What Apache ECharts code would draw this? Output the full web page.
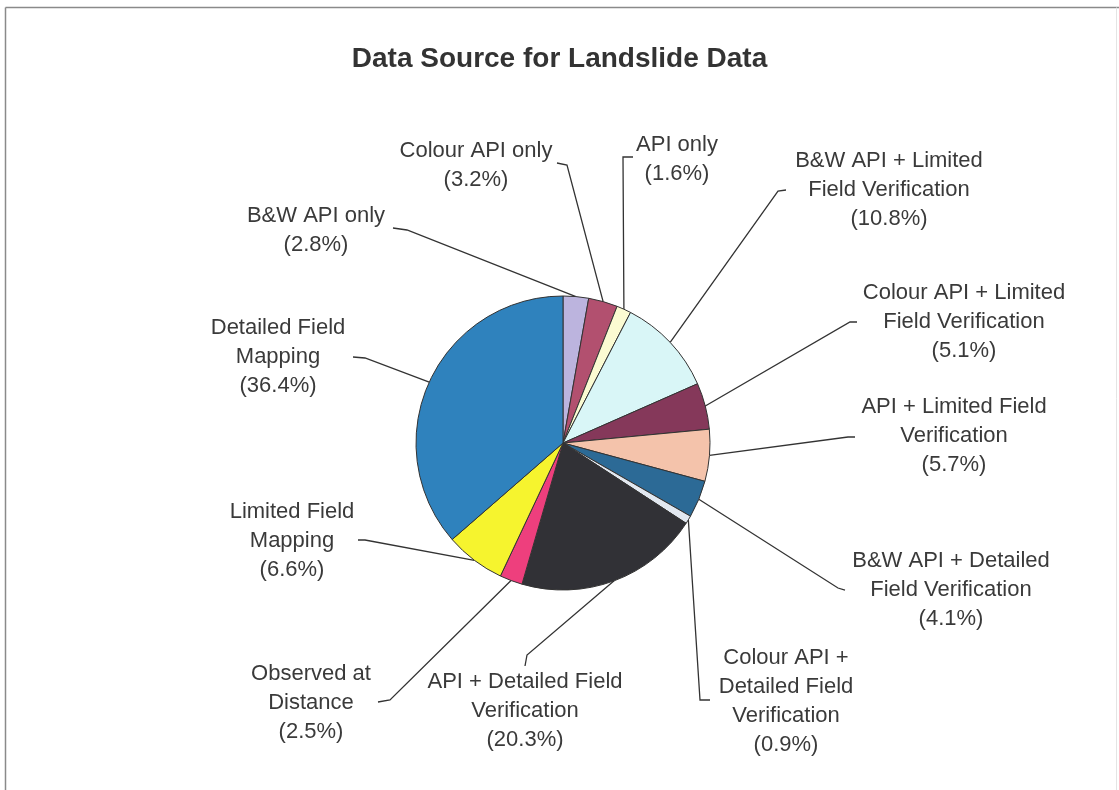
<!DOCTYPE html>
<html>
<head>
<meta charset="utf-8">
<script src="https://cdn.jsdelivr.net/npm/echarts@6/dist/echarts.min.js"></script>
<style>
  html, body { margin: 0; padding: 0; background: #ffffff; }
  #chart { width: 1119px; height: 790px; }
</style>
</head>
<body>
<div id="chart"></div>
<script>
// ---- data ----
const categories = [
  'B&W API only',
  'Colour API only',
  'API only',
  'B&W API + Limited\nField Verification',
  'Colour API + Limited\nField Verification',
  'API + Limited Field\nVerification',
  'B&W API + Detailed\nField Verification',
  'Colour API +\nDetailed Field\nVerification',
  'API + Detailed Field\nVerification',
  'Observed at\nDistance',
  'Limited Field\nMapping',
  'Detailed Field\nMapping'
];
const values = [2.8, 3.2, 1.6, 10.8, 5.1, 5.7, 4.1, 0.9, 20.3, 2.5, 6.6, 36.4];
const titleText = 'Data Source for Landslide Data';

// ---- styles / layout (not data) ----
const colors = [
  '#bcb4de', '#b2506f', '#fbfbd2', '#d9f6f7', '#85385a', '#f4c3ab',
  '#2c6a96', '#e2e8f0', '#313136', '#ee3f7d', '#f6f42e', '#2f82bd'
];
// label centre [x, y], bend point, line end point near label
const labelPos = [
  { c: [316, 230], bend: [407, 230], end: [393, 228] },
  { c: [476, 165], bend: [567, 165], end: [557, 163] },
  { c: [677, 159], bend: [623, 157], end: [633, 157] },
  { c: [889, 190], bend: [778, 191], end: [786, 190] },
  { c: [964, 322], bend: [850, 322], end: [857, 322] },
  { c: [954, 436], bend: [848, 437], end: [855, 437] },
  { c: [951, 590], bend: [838, 588], end: [845, 590] },
  { c: [786, 701], bend: [700, 700], end: [710, 700] },
  { c: [525, 711], bend: [527, 655], end: [525, 666] },
  { c: [311, 703], bend: [390, 700], end: [378, 702] },
  { c: [292, 541], bend: [365, 540], end: [358, 540] },
  { c: [278, 357], bend: [365, 358], end: [353, 357] }
];

const chart = echarts.init(document.getElementById('chart'), null, { renderer: 'canvas' });
const option = {
  backgroundColor: '#ffffff',
  animation: false,
  title: {
    text: titleText,
    left: 'center',
    top: 40,
    textStyle: {
      fontFamily: 'Liberation Sans, Arial, sans-serif',
      fontSize: 28,
      fontWeight: 'bold',
      color: '#333333'
    }
  },
  graphic: [
    { type: 'line', shape: { x1: 5.5, y1: 7.5, x2: 1119, y2: 7.5 }, style: { stroke: '#8a8a8a', lineWidth: 1.5 } },
    { type: 'line', shape: { x1: 5.5, y1: 7.5, x2: 5.5, y2: 790 }, style: { stroke: '#8a8a8a', lineWidth: 1.5 } },
    { type: 'line', shape: { x1: 1116.5, y1: 7.5, x2: 1116.5, y2: 790 }, style: { stroke: '#e4e4e4', lineWidth: 1 } }
  ],
  series: [{
    type: 'pie',
    center: [563, 443],
    radius: 147,
    startAngle: 90,
    clockwise: true,
    avoidLabelOverlap: false,
    data: categories.map((n, i) => ({ name: n, value: values[i], itemStyle: { color: colors[i] } })),
    itemStyle: { borderColor: '#333333', borderWidth: 1 },
    label: {
      show: true,
      position: 'outside',
      formatter: p => p.name + '\n(' + p.value.toFixed(1) + '%)',
      fontFamily: 'Liberation Sans, Arial, sans-serif',
      fontSize: 22,
      lineHeight: 29,
      color: '#3a3a3a',
      align: 'center'
    },
    labelLine: {
      show: true,
      length: 10,
      length2: 10,
      lineStyle: { color: '#333333', width: 1.3 }
    },
    emphasis: { disabled: true },
    labelLayout: function (params) {
      const lp = labelPos[params.dataIndex];
      const pts = params.labelLinePoints;
      const edge = pts ? pts[0] : lp.bend;
      return {
        x: lp.c[0],
        y: lp.c[1],
        align: 'center',
        verticalAlign: 'middle',
        labelLinePoints: [edge, lp.bend, lp.end]
      };
    }
  }]
};
chart.setOption(option);
</script>
</body>
</html>
